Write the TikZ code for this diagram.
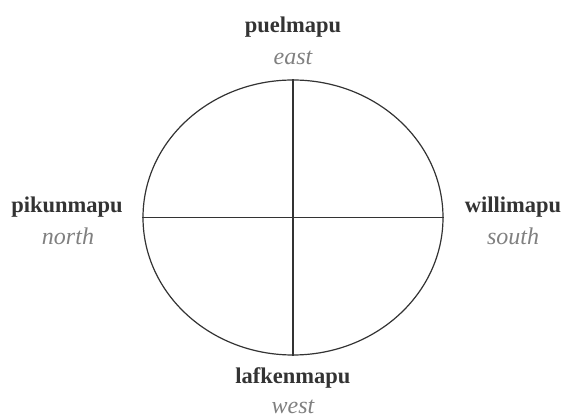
\documentclass[tikz,border=0pt]{standalone}
\usepackage{fontspec}
\setmainfont{Liberation Serif}
\usetikzlibrary{shapes.geometric}
\begin{document}
\begin{tikzpicture}[x=1pt,y=-1pt,
  dirname/.style={anchor=base,inner sep=0pt,text=black!80,font=\fontsize{22.5}{24}\selectfont\bfseries},
  dirsub/.style={anchor=base,inner sep=0pt,text=black!50,font=\fontsize{24}{26}\selectfont\itshape},
  circ/.style={draw=black!80,line width=1.2pt}]
\useasboundingbox (0,0) rectangle (568,419);
\node[circ,ellipse,minimum width=300pt,minimum height=275pt,inner sep=0pt] (E) at (293,217.5) {};
\draw[circ] (E.north) -- (E.south);
\draw[circ] (E.west) -- (E.east);
\node[dirname] (pu) at (293,33) {puelmapu};
\node[dirsub] (ea) at (293,65) {east};
\node[dirname] (pi) at (67,213) {pikunmapu};
\node[dirsub] (no) at (68,245) {north};
\node[dirname] (wi) at (513,213) {willimapu};
\node[dirsub] (so) at (513,245) {south};
\node[dirname] (la) at (293,384) {lafkenmapu};
\node[dirsub] (we) at (293,414) {west};
\end{tikzpicture}
\end{document}
